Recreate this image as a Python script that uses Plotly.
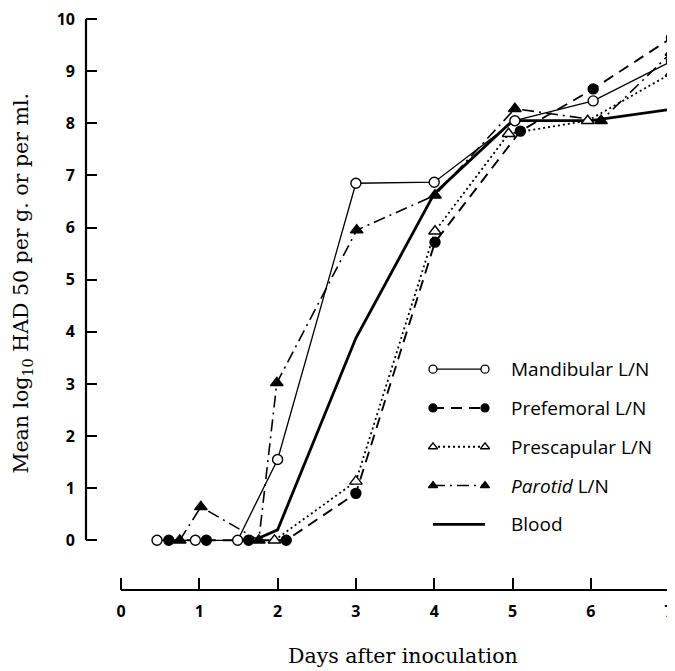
import plotly.graph_objects as go

# ---------------- data ----------------
mand_x = [0.46, 0.95, 1.49, 2.00, 3.00, 4.00, 5.03, 6.03, 7.03]
mand_y = [0.00, 0.00, 0.00, 1.55, 6.85, 6.87, 8.05, 8.43, 9.19]

pref_x = [0.61, 1.09, 1.63, 2.11, 3.00, 4.01, 5.10, 6.03, 7.03]
pref_y = [0.00, 0.00, 0.00, 0.00, 0.90, 5.72, 7.85, 8.66, 9.64]

presc_x = [1.96, 3.00, 4.01, 4.95, 5.96, 7.03]
presc_y = [0.00, 1.13, 5.93, 7.80, 8.05, 8.96]

parot_x = [0.75, 1.02, 1.76, 1.99, 3.01, 4.01, 5.03, 6.13, 7.03]
parot_y = [0.00, 0.64, 0.00, 3.02, 5.95, 6.62, 8.28, 8.05, 9.36]

blood_x = [1.77, 2.00, 3.00, 4.00, 5.00, 6.00, 7.08]
blood_y = [0.05, 0.20, 3.88, 6.65, 8.05, 8.05, 8.28]

x_ticks = [0, 1, 2, 3, 4, 5, 6, 7]
x_tick_labels = ["0", "1", "2", "3", "4", "5", "6", "7"]
y_ticks = [0, 1, 2, 3, 4, 5, 6, 7, 8, 9, 10]
y_tick_labels = ["0", "1", "2", "3", "4", "5", "6", "7", "8", "9", "10"]

legend_names = ["Mandibular L/N", "Prefemoral L/N", "Prescapular L/N",
                "<i>Parotid</i> L/N", "Blood"]

x_title = "Days after inoculation"
y_title = "Mean log<sub>10</sub> HAD 50 per g. or per ml."

# ---------------- geometry ----------------
# the page has an 8px body margin, so the figure is drawn 8px in from the corner
OFF = 8
W, H = 675 - OFF, 671 - OFF
ML, MR, MT, MB = 86 - OFF, 0, 14 - OFF, H - (590 - OFF)
XMIN, XMAX = -0.447, 7.075
YMIN, YMAX = -0.954, 10.04
PW, PH = W - ML - MR, H - MT - MB


def px(xp):      # page pixel x -> paper
    return (xp - OFF - ML) / PW


def py(yp):      # page pixel y -> paper
    return 1 - (yp - OFF - MT) / PH


series = [
    dict(x=mand_x, y=mand_y, dash="solid", width=1.3, sym="circle", fill="white"),
    dict(x=pref_x, y=pref_y, dash="11px,7px", width=1.9, sym="circle", fill="black"),
    dict(x=presc_x, y=presc_y, dash="2px,3px", width=1.8, sym="triangle-up", fill="white"),
    dict(x=parot_x, y=parot_y, dash="12px,5px,2px,5px", width=1.6, sym="triangle-up", fill="black"),
    dict(x=blood_x, y=blood_y, dash="solid", width=2.8, sym=None, fill=None),
]

fig = go.Figure()

# lines first
for s in series:
    fig.add_trace(go.Scatter(
        x=s["x"], y=s["y"], mode="lines",
        line=dict(color="black", width=s["width"], dash=s["dash"]),
        showlegend=False, hoverinfo="skip"))
# markers on top
for s in series:
    if s["sym"] is None:
        continue
    fig.add_trace(go.Scatter(
        x=s["x"], y=s["y"], mode="markers",
        marker=dict(symbol=s["sym"], size=10 if s["sym"] == "circle" else 11,
                    color=s["fill"], line=dict(color="black", width=1.4)),
        showlegend=False, hoverinfo="skip"))

# ---------------- hand-drawn legend on an overlay pixel axis ----------------
leg_rows = [368, 407, 446, 485, 524]          # page pixels
leg_x0, leg_x1, leg_text_x = 433, 485, 509
for s, name, ry in zip(series, legend_names, leg_rows):
    fig.add_trace(go.Scatter(
        x=[leg_x0, leg_x1], y=[ry, ry], xaxis="x2", yaxis="y2",
        mode="lines" if s["sym"] is None else "lines+markers",
        line=dict(color="black", width=s["width"], dash=s["dash"]),
        marker=dict(symbol=s["sym"] or "circle", size=8,
                    color=s["fill"] or "black", line=dict(color="black", width=1.3)),
        showlegend=False, hoverinfo="skip"))
    fig.add_annotation(x=px(leg_text_x), y=py(ry), xref="paper", yref="paper", text=name,
                       showarrow=False, xanchor="left", yanchor="middle",
                       font=dict(family="Open Sans", size=19, color="black"))

# axis titles
fig.add_annotation(x=px(403), y=py(656), xref="paper", yref="paper", text=x_title,
                   showarrow=False, xanchor="center", yanchor="middle",
                   font=dict(family="DejaVu Serif", size=20.5, color="black"))
fig.add_annotation(x=px(22), y=py(282), xref="paper", yref="paper", text=y_title,
                   textangle=-90, showarrow=False, xanchor="center", yanchor="middle",
                   borderpad=0,
                   font=dict(family="DejaVu Serif", size=20.5, color="black"))

# axis lines (offset spines)
x0p = (0 - XMIN) / (XMAX - XMIN)
fig.add_shape(type="line", xref="paper", yref="paper", x0=x0p, x1=1.0, y0=0, y1=0,
              line=dict(color="black", width=2))
fig.add_shape(type="line", xref="paper", yref="y", x0=0, x1=0, y0=0, y1=10,
              line=dict(color="black", width=2.2))

fig.update_layout(
    width=W, height=H,
    margin=dict(l=ML, r=MR, t=MT, b=MB, pad=0),
    plot_bgcolor="white", paper_bgcolor="white",
    showlegend=False,
    xaxis=dict(range=[XMIN, XMAX], showgrid=False, zeroline=False, showline=False,
               tickmode="array", tickvals=x_ticks, ticktext=x_tick_labels,
               ticks="inside", ticklen=12, tickwidth=2, tickcolor="black",
               ticklabelstandoff=10, ticklabeloverflow="allow",
               tickfont=dict(family="Open Sans", size=16, color="black", weight="bold")),
    yaxis=dict(range=[YMIN, YMAX], showgrid=False, zeroline=False, showline=False,
               tickmode="array", tickvals=y_ticks, ticktext=y_tick_labels,
               ticks="inside", ticklen=11, tickwidth=2, tickcolor="black",
               ticklabelstandoff=10, ticklabeloverflow="allow",
               tickfont=dict(family="Open Sans", size=16, color="black", weight="bold")),
    xaxis2=dict(overlaying="x", range=[ML + OFF, W - MR + OFF], visible=False, fixedrange=True),
    yaxis2=dict(overlaying="y", range=[H - MB + OFF, MT + OFF], visible=False, fixedrange=True),
)

fig.write_html("out.html")
